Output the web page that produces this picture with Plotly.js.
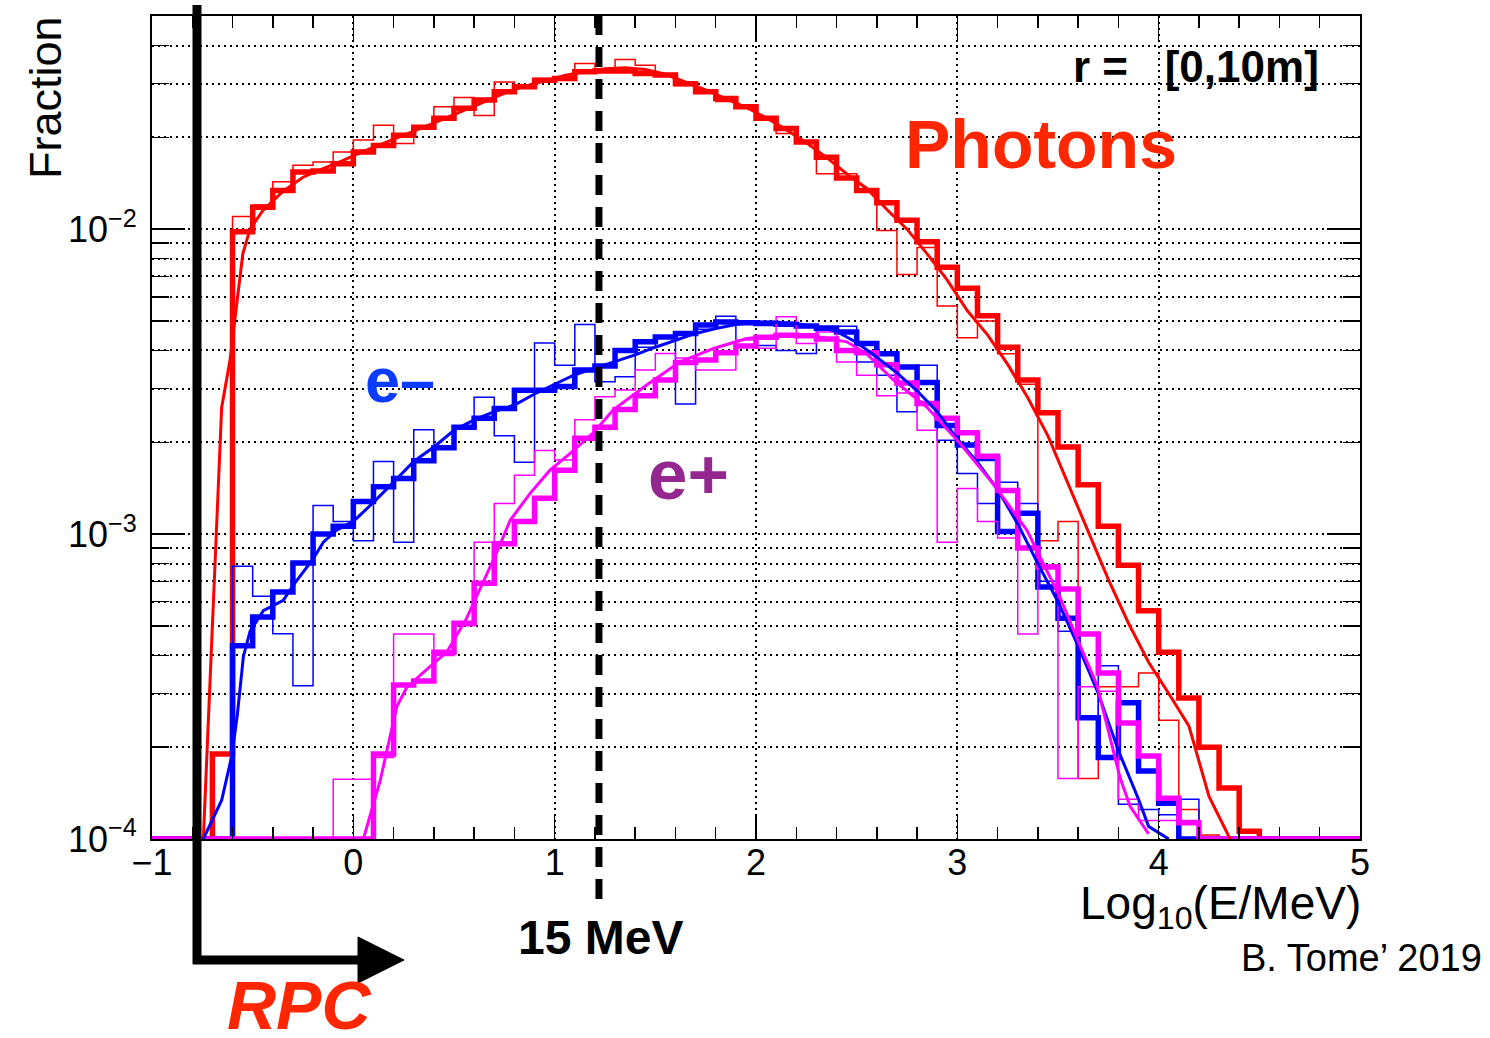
<!DOCTYPE html>
<html>
<head>
<meta charset="utf-8">
<script src="https://cdn.plot.ly/plotly-3.0.1.min.js"></script>
<style>
html,body{margin:0;padding:0;background:#ffffff;}
#chart{width:1490px;height:1038px;}
</style>
</head>
<body>
<div id="chart"></div>
<script>
// ---------------- DATA ----------------
// Histogram bin edges in log10(E/MeV)
const binEdges = [-1.0,-0.9,-0.8,-0.7,-0.6,-0.5,-0.4,-0.3,-0.2,-0.1,
  0.0,0.1,0.2,0.3,0.4,0.5,0.6,0.7,0.8,0.9,
  1.0,1.1,1.2,1.3,1.4,1.5,1.6,1.7,1.8,1.9,
  2.0,2.1,2.2,2.3,2.4,2.5,2.6,2.7,2.8,2.9,
  3.0,3.1,3.2,3.3,3.4,3.5,3.6,3.7,3.8,3.9,
  4.0,4.1,4.2,4.3,4.4,4.5,4.6,4.7,4.8,4.9,5.0];

// Photons
const photonThick = [0,0,0,0.00019,0.0098,0.0118,0.0134,0.0154,0.0155,0.0164,
  0.0179,0.0188,0.0203,0.0216,0.0231,0.0249,0.0265,0.0282,0.0293,0.0308,
  0.0312,0.0328,0.0330,0.0330,0.0324,0.0320,0.0300,0.0282,0.0268,0.0252,
  0.0231,0.0214,0.0193,0.0172,0.0147,0.0134,0.0122,0.0107,0.0091,0.0075,
  0.0064,0.0052,0.0041,0.0032,0.0025,0.00193,0.00145,0.00106,0.00079,0.00056,
  0.00041,0.00029,0.00020,0.000147,0.000106,0,0,0,0,0];
const photonThin = [0,0,0,0.00019,0.0110,0.0120,0.0143,0.0162,0.0166,0.0179,
  0.0196,0.0219,0.0191,0.0214,0.0252,0.0270,0.0236,0.0304,0.0296,0.0312,
  0.0316,0.0349,0.0335,0.0360,0.0345,0.0318,0.0296,0.0284,0.0262,0.0254,
  0.0233,0.0206,0.0195,0.0152,0.0152,0.0133,0.0099,0.0071,0.0087,0.0056,
  0.0044,0.0050,0.0039,0.0031,0.00095,0.00110,0.000158,0.000316,0.000316,0.00035,
  0.000245,0.000125,0.000103,0,0,0,0,0,0,0];
const photonFitX = [-0.745,-0.654,-0.613,-0.588,-0.549,-0.513,-0.45,-0.35,-0.25,-0.15,
  -0.05,0.05,0.15,0.25,0.35,0.45,0.55,0.65,0.75,0.85,
  0.95,1.05,1.15,1.25,1.35,1.45,1.55,1.65,1.75,1.85,
  1.95,2.05,2.15,2.25,2.35,2.45,2.55,2.65,2.75,2.85,
  2.95,3.05,3.15,3.25,3.35,3.45,3.55,3.65,3.75,3.85,
  3.95,4.05,4.15,4.25,4.355];
const photonFitY = [0.0001,0.0026,0.0037,0.0050,0.0083,0.0100,0.0115,0.0133,0.0148,0.0158,
  0.0168,0.0180,0.0191,0.0203,0.0216,0.0230,0.0245,0.0262,0.0279,0.0294,
  0.0307,0.0319,0.0329,0.0336,0.0338,0.0334,0.0322,0.0304,0.0286,0.0268,
  0.0251,0.0232,0.0212,0.0192,0.0172,0.0152,0.0136,0.0116,0.0100,0.0083,
  0.0068,0.0054,0.0045,0.0036,0.0028,0.0021,0.00146,0.00102,0.00071,0.00051,
  0.00038,0.00030,0.000235,0.000138,0.0001];

// Electrons (e-)
const electronThick = [0,0,0,0,0.00043,0.000535,0.000646,0.000803,0.00100,0.00106,
  0.00128,0.00143,0.00152,0.00174,0.00192,0.00224,0.00240,0.00258,0.00296,0.00296,
  0.00305,0.00345,0.00356,0.00400,0.00427,0.00443,0.00455,0.00485,0.00496,0.00493,
  0.00490,0.00488,0.00481,0.00473,0.00460,0.00422,0.00390,0.00353,0.00314,0.00227,
  0.00196,0.00177,0.00102,0.00117,0.00067,0.00053,0.00025,0.000185,0.00028,0.000167,
  0.000131,0,0,0,0,0,0,0,0,0];
const electronThin = [0,0,0,0,0.000785,0.000625,0.000471,0.000318,0.00124,0.00110,
  0.00095,0.00173,0.00094,0.00220,0.00195,0.00225,0.00281,0.00210,0.00172,0.00423,
  0.00358,0.00487,0.00316,0.00328,0.00410,0.00440,0.00267,0.00470,0.00518,0.00415,
  0.00415,0.00400,0.00391,0.00480,0.00480,0.00367,0.00332,0.00252,0.00358,0.00203,
  0.00158,0.00126,0.00148,0.00126,0.00070,0.00048,0.00025,0.00037,0.00013,0.000125,
  0.00012,0.000135,0,0,0,0,0,0,0,0];
const electronFitX = [-0.745,-0.654,-0.604,-0.576,-0.546,-0.513,-0.447,-0.348,-0.298,-0.199,
  -0.149,-0.083,0.0,0.1,0.2,0.3,0.4,0.5,0.6,0.7,
  0.8,0.9,1.0,1.1,1.2,1.3,1.4,1.5,1.6,1.7,
  1.8,1.9,2.0,2.1,2.2,2.3,2.4,2.5,2.6,2.7,
  2.8,2.9,3.0,3.1,3.2,3.3,3.4,3.5,3.6,3.7,
  3.8,3.9,3.95,4.05];
const electronFitY = [0.0001,0.000134,0.000187,0.000256,0.000397,0.00048,0.000561,0.000606,0.00068,0.00083,
  0.00094,0.00103,0.00110,0.00127,0.00148,0.00173,0.00193,0.00219,0.00237,0.00252,
  0.00265,0.00288,0.00310,0.00333,0.00350,0.00367,0.00387,0.00410,0.00432,0.00455,
  0.00472,0.00487,0.00496,0.00496,0.00490,0.00478,0.00462,0.00425,0.00380,0.00338,
  0.00295,0.00252,0.00205,0.00172,0.00140,0.00108,0.00080,0.00060,0.00043,0.00030,
  0.000195,0.000135,0.00011,0.0001];

// Positrons (e+)
const positronThick = [0,0,0,0,0,0,0,0,0,0,
  0,0.00019,0.00032,0.00033,0.00041,0.00051,0.00069,0.00093,0.00110,0.00131,
  0.00162,0.00206,0.00224,0.00256,0.00284,0.00320,0.00365,0.00372,0.00393,0.00414,
  0.00442,0.00449,0.00447,0.00436,0.00400,0.00393,0.00359,0.00313,0.00268,0.00240,
  0.00215,0.00180,0.00139,0.00090,0.00078,0.00066,0.00047,0.00035,0.00024,0.000187,
  0.000136,0.000113,0,0,0,0,0,0,0,0];
const positronThin = [0,0,0,0,0,0,0,0,0,0.000157,
  0.000157,0.000185,0.00047,0.00047,0.00040,0.00050,0.00094,0.00126,0.00156,0.00188,
  0.00175,0.00237,0.00282,0.00297,0.00345,0.00391,0.00378,0.00345,0.00345,0.00433,
  0.00407,0.00516,0.00422,0.00460,0.00367,0.00332,0.00284,0.00290,0.00219,0.00094,
  0.00141,0.00110,0.00097,0.00047,0.00079,0.000158,0.000316,0.000305,0.000135,0.000115,
  0.000115,0.000115,0,0,0,0,0,0,0,0];
const positronFitX = [0.05,0.133,0.216,0.265,0.365,0.464,0.563,0.646,0.712,0.779,
  0.878,0.977,1.077,1.193,1.29,1.457,1.623,1.789,1.954,2.12,
  2.286,2.451,2.55,2.683,2.848,3.014,3.179,3.345,3.51,3.61,
  3.693,3.808,3.858,3.95];
const positronFitY = [0.0001,0.000155,0.000272,0.000314,0.00036,0.00041,0.00053,0.00070,0.00087,0.00111,
  0.00136,0.00162,0.00184,0.00215,0.00255,0.00308,0.00367,0.00406,0.00438,0.00449,
  0.00446,0.00427,0.0039,0.0032,0.00261,0.00198,0.00146,0.00103,0.00062,0.00043,
  0.00032,0.000159,0.000128,0.000104];

// Axis ticks
const xTickVals = [-1,0,1,2,3,4,5];
const xTickText = ['\u22121','0','1','2','3','4','5'];
const xMinorVals = [-0.8,-0.6,-0.4,-0.2,0.2,0.4,0.6,0.8,1.2,1.4,1.6,1.8,2.2,2.4,2.6,2.8,3.2,3.4,3.6,3.8,4.2,4.4,4.6,4.8];
const yTickVals = [1e-4,1e-3,1e-2];
const yTickText = ['10<sup>\u22124</sup>','10<sup>\u22123</sup>','10<sup>\u22122</sup>'];
const yMinorVals = [2e-4,3e-4,4e-4,5e-4,6e-4,7e-4,8e-4,9e-4,
  2e-3,3e-3,4e-3,5e-3,6e-3,7e-3,8e-3,9e-3,2e-2,3e-2,4e-2];

const thresholdLog10E = 1.22; // "15 MeV" marker position as drawn

// ---------------- STYLE / LAYOUT ----------------
const yFloor = 1e-4;
const yRangeLog = [-4, Math.log10(0.05)];
const RED = '#ff0000', BLUE = '#0000ff', MAG = '#ff00ff';
const FONT = 'Liberation Sans, Arial, Helvetica, sans-serif';

function stepTrace(vals, color, width) {
  const ys = vals.map(v => (v > 0 ? v : yFloor));
  ys.push(ys[ys.length - 1]);
  return {type:'scatter', mode:'lines', x: binEdges, y: ys,
    line:{shape:'hv', color: color, width: width},
    hoverinfo:'skip', showlegend:false};
}
function curveTrace(xs, ys, color, width) {
  return {type:'scatter', mode:'lines', x: xs, y: ys,
    line:{color: color, width: width}, hoverinfo:'skip', showlegend:false};
}

const traces = [
  stepTrace(photonThin, RED, 1.5),
  stepTrace(photonThick, RED, 5.5),
  stepTrace(electronThin, BLUE, 1.5),
  stepTrace(electronThick, BLUE, 5.5),
  stepTrace(positronThin, MAG, 1.5),
  stepTrace(positronThick, MAG, 5.5),
  curveTrace(photonFitX, photonFitY, RED, 3),
  curveTrace(electronFitX, electronFitY, BLUE, 3),
  curveTrace(positronFitX, positronFitY, MAG, 3)
];

// plot area in pixels: left 152, right 1360, top 16, bottom 839
const PL = 152, PR = 1360, PT = 16, PB = 839;
const px = v => (v - PL) / (PR - PL);
const py = v => (PB - v) / (PB - PT);

const annotations = [
  {text:'Fraction', textangle:-90, x:px(45), y:py(98), xref:'paper', yref:'paper',
   xanchor:'center', yanchor:'middle', showarrow:false, font:{family:FONT, size:45, color:'#000'}},
  {text:'Log<sub>10</sub>(E/MeV)', x:px(1363), y:py(906), xref:'paper', yref:'paper',
   xanchor:'right', yanchor:'middle', showarrow:false, font:{family:FONT, size:46, color:'#000'}},
  {text:'<b>r =\u00a0\u00a0\u00a0[0,10m]</b>', x:px(1321), y:py(66), xref:'paper', yref:'paper',
   xanchor:'right', yanchor:'middle', showarrow:false, font:{family:FONT, size:44, color:'#000'}},
  {text:'<b>Photons</b>', x:px(903), y:py(144), xref:'paper', yref:'paper',
   xanchor:'left', yanchor:'middle', showarrow:false, font:{family:FONT, size:68, color:'#ff2600'}},
  {text:'<b>e\u2013</b>', x:px(363), y:py(380), xref:'paper', yref:'paper',
   xanchor:'left', yanchor:'middle', showarrow:false, font:{family:FONT, size:63, color:'#0a3cff'}},
  {text:'<b>e+</b>', x:px(646), y:py(474), xref:'paper', yref:'paper',
   xanchor:'left', yanchor:'middle', showarrow:false, font:{family:FONT, size:71, color:'#93278f'}},
  {text:'<b>15 MeV</b>', x:px(600), y:py(937), xref:'paper', yref:'paper',
   xanchor:'center', yanchor:'middle', showarrow:false, font:{family:FONT, size:48, color:'#000'}},
  {text:'B. Tome\u2019 2019', x:px(1484), y:py(958), xref:'paper', yref:'paper',
   xanchor:'right', yanchor:'middle', showarrow:false, font:{family:FONT, size:38, color:'#000'}},
  {text:'<b><i>RPC</i></b>', x:px(299), y:py(1005), xref:'paper', yref:'paper',
   xanchor:'center', yanchor:'middle', showarrow:false, font:{family:FONT, size:68, color:'#ff2600'}}
];

const xThr = (thresholdLog10E - (-1)) / 6;
const shapes = [
  // 15 MeV dashed marker
  {type:'line', xref:'paper', yref:'paper', x0:xThr, x1:xThr, y0:py(15), y1:py(902),
   line:{color:'#000', width:7, dash:'20px,12px'}, layer:'above'},
  // RPC arrow
  {type:'line', xref:'paper', yref:'paper', x0:px(197), x1:px(197), y0:py(5), y1:py(964),
   line:{color:'#000', width:9}, layer:'above'},
  {type:'line', xref:'paper', yref:'paper', x0:px(193), x1:px(365), y0:py(960), y1:py(960),
   line:{color:'#000', width:9}, layer:'above'},
  {type:'path', xref:'paper', yref:'paper',
   path:'M '+px(358)+','+py(937)+' L '+px(404)+','+py(960)+' L '+px(358)+','+py(983)+' Z',
   fillcolor:'#000', line:{color:'#000', width:1}, layer:'above'}
];

const layout = {
  width:1490, height:1038,
  margin:{l:PL, r:1490-PR, t:PT, b:1038-PB, pad:0},
  paper_bgcolor:'#ffffff', plot_bgcolor:'#ffffff',
  showlegend:false,
  font:{family:FONT, color:'#000'},
  xaxis:{
    range:[-1,5], tickmode:'array', tickvals:xTickVals, ticktext:xTickText,
    ticks:'inside', ticklen:25, tickwidth:1.5, tickcolor:'#000',
    showline:true, linecolor:'#000', linewidth:2, mirror:'ticks',
    showgrid:true, gridcolor:'#000', gridwidth:2, griddash:'2px,4px',
    zeroline:false, tickfont:{family:FONT, size:36, color:'#000'},
    ticklabelstandoff:-9,
    minor:{tickmode:'array', tickvals:xMinorVals, ticks:'inside', ticklen:12, tickwidth:1.5, tickcolor:'#000', showgrid:false}
  },
  yaxis:{
    type:'log', range:yRangeLog, tickmode:'array', tickvals:yTickVals, ticktext:yTickText,
    ticks:'inside', ticklen:33, tickwidth:1.5, tickcolor:'#000',
    showline:true, linecolor:'#000', linewidth:2, mirror:'ticks',
    showgrid:true, gridcolor:'#000', gridwidth:2, griddash:'2px,4px',
    zeroline:false, tickfont:{family:FONT, size:36, color:'#000'},
    ticklabelstandoff:6,
    minor:{tickmode:'array', tickvals:yMinorVals, ticks:'inside', ticklen:17, tickwidth:1.5, tickcolor:'#000',
      showgrid:true, gridcolor:'#000', gridwidth:2, griddash:'2px,4px'}
  },
  annotations: annotations,
  shapes: shapes
};

Plotly.newPlot('chart', traces, layout, {displayModeBar:false, staticPlot:true});
</script>
</body>
</html>
